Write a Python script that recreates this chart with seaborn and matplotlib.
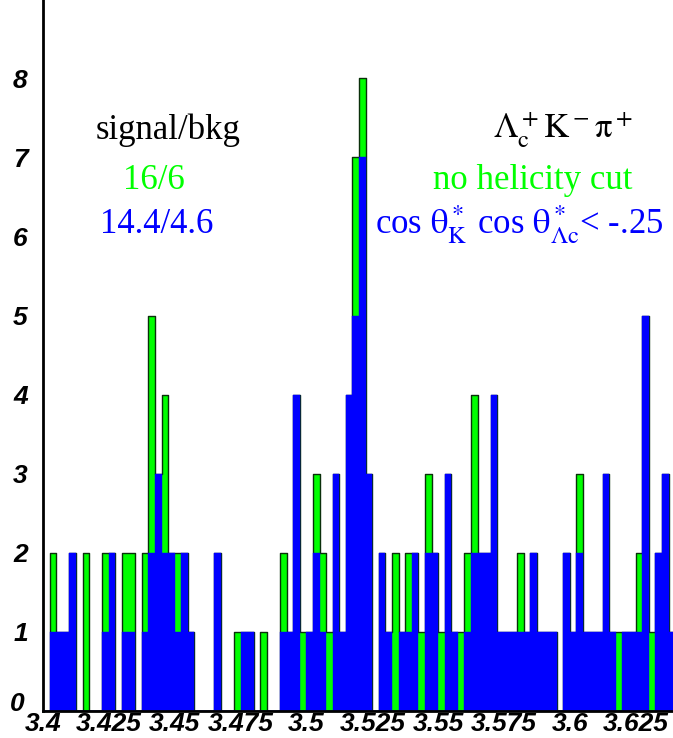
import numpy as np
import pandas as pd
import matplotlib
matplotlib.use('Agg')
import matplotlib.pyplot as plt
import matplotlib.transforms as mtransforms
import seaborn as sns
from matplotlib.ticker import MultipleLocator

# binning of the mass axis (GeV), 96 bins of 2.5 MeV
x_low = 3.4
bin_width = 0.0025
n_bins = 96

# entries per bin
no_cut = [0, 2, 1, 1, 2, 0, 2, 0, 0, 2,
          2, 0, 2, 2, 0, 2, 5, 3, 4, 2,
          2, 2, 1, 0, 0, 0, 2, 0, 0, 1,
          1, 1, 0, 1, 0, 0, 2, 1, 4, 1,
          1, 3, 2, 1, 3, 1, 4, 7, 8, 3,
          0, 2, 1, 2, 1, 2, 2, 1, 3, 2,
          1, 3, 1, 1, 2, 4, 2, 2, 4, 1,
          1, 1, 2, 1, 2, 1, 1, 1, 0, 2,
          1, 3, 1, 1, 1, 3, 1, 1, 1, 1,
          2, 5, 1, 2, 3, 1]
helicity_cut = [0, 1, 1, 1, 2, 0, 0, 0, 0, 1,
                2, 0, 1, 1, 0, 1, 2, 3, 2, 2,
                1, 2, 1, 0, 0, 0, 2, 0, 0, 0,
                1, 1, 0, 0, 0, 0, 1, 1, 4, 0,
                1, 2, 1, 0, 3, 1, 4, 5, 7, 3,
                0, 2, 1, 0, 1, 1, 2, 0, 2, 2,
                0, 3, 1, 0, 1, 2, 2, 2, 4, 1,
                1, 1, 1, 1, 2, 1, 1, 1, 0, 2,
                1, 2, 1, 1, 1, 3, 1, 0, 1, 1,
                1, 5, 0, 2, 3, 1]

xtick_vals = [3.4, 3.425, 3.45, 3.475, 3.5, 3.525, 3.55, 3.575, 3.6, 3.625]

edges = x_low + bin_width * np.arange(n_bins + 1)
centers = 0.5 * (edges[:-1] + edges[1:])
df = pd.DataFrame({'mass': centers, 'no_cut': no_cut, 'cut': helicity_cut})

sns.set_style('white')
plt.rcParams['font.family'] = ['Liberation Serif', 'DejaVu Serif']
plt.rcParams['mathtext.fontset'] = 'stix'

fig = plt.figure(figsize=(6.73, 7.38), dpi=100)
ax = fig.add_axes([43 / 673, 27 / 738, 630 / 673, 711 / 738])

# green = no helicity cut (drawn first), blue = with the cut on top
sns.histplot(data=df, x='mass', weights='no_cut', bins=list(edges), element='step',
             fill=True, color='#00ff00', edgecolor='#0a300a', linewidth=1.0, alpha=1, ax=ax)
sns.histplot(data=df, x='mass', weights='cut', bins=list(edges), element='step',
             fill=True, color='#0000ff', edgecolor='#0000ff', linewidth=0.3, alpha=1, ax=ax)

ax.set_xlim(3.4, 3.4 + 630 / 2634)
ax.set_ylim(0, 8.99)
ax.set_xlabel('')
ax.set_ylabel('')

ax.set_xticks(xtick_vals)
ax.set_xticklabels([f'{v:g}' for v in xtick_vals])
ax.xaxis.set_minor_locator(MultipleLocator(0.0125))
ax.set_yticks(range(0, 9))
ax.yaxis.set_minor_locator(MultipleLocator(0.2))
ax.tick_params(axis='both', which='major', direction='in', length=8, width=1.2,
               colors='black', labelsize=19)
ax.tick_params(axis='both', which='minor', direction='in', length=4.5, width=1.0)
ax.tick_params(axis='x', which='major', pad=0.5)
ax.tick_params(axis='y', which='major', pad=11)
for lab in ax.get_xticklabels() + ax.get_yticklabels():
    lab.set_fontfamily('Liberation Sans')
    lab.set_fontweight('bold')
    lab.set_fontstyle('italic')

# the "0" on y sits a little higher, like ROOT does
zero_lab = ax.get_yticklabels()[0]
zero_lab.set_transform(zero_lab.get_transform()
                       + mtransforms.ScaledTranslation(-2 / 72, 7 / 72, fig.dpi_scale_trans))

for side in ['top', 'right']:
    ax.spines[side].set_visible(False)
for side in ['left', 'bottom']:
    ax.spines[side].set_linewidth(2.0)
    ax.spines[side].set_color('black')

# labels
fig.text(0.25, 0.824, 'signal/bkg', fontsize=25, color='black', ha='center', va='center')
fig.text(0.229, 0.755, '16/6', fontsize=25, color='#00ff00', ha='center', va='center')
fig.text(0.233, 0.696, '14.4/4.6', fontsize=25, color='#0000ff', ha='center', va='center')
fig.text(0.837, 0.824, r'$\mathrm{\Lambda_c^+ K^- \pi^+}$', fontsize=25, color='black',
         ha='center', va='center')
fig.text(0.792, 0.755, 'no helicity cut', fontsize=25, color='#00ff00', ha='center', va='center')
fig.text(0.771, 0.696, r'cos $\mathrm{\theta^*_K}$ cos $\mathrm{\theta^*_{\Lambda c}}$< -.25',
         fontsize=25, color='#0000ff', ha='center', va='center')

fig.savefig('out.png', dpi=100)
